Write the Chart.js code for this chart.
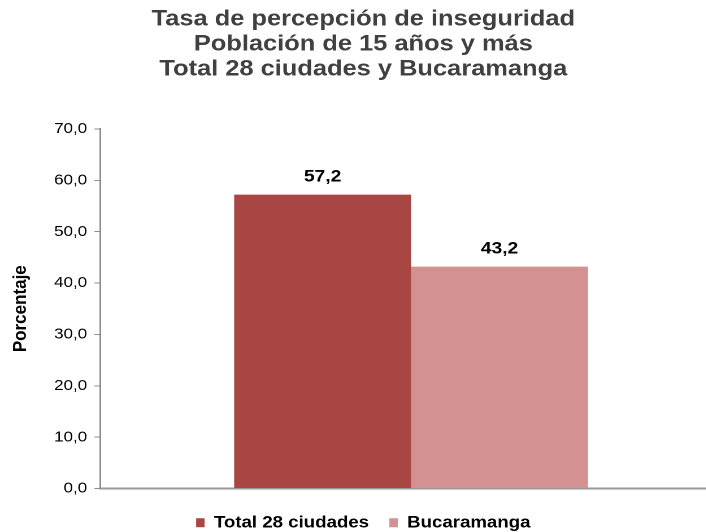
<!DOCTYPE html>
<html>
<head>
<meta charset="utf-8">
<script src="https://cdn.jsdelivr.net/npm/chart.js@4/dist/chart.umd.min.js"></script>
<style>
  html, body { margin: 0; padding: 0; background: #fff; overflow: hidden; }
  /* the source picture is a bit wider than tall, so the chart is stretched sideways */
  #wrap { position: relative; width: 639px; height: 541px; transform: scaleX(1.13); transform-origin: 0 0; }
</style>
</head>
<body>
<div id="wrap"><canvas id="chart"></canvas></div>
<script>
// Data
const categories = [""];
const seriesNames = ["Total 28 ciudades", "Bucaramanga"];
const totalValues = [57.2];
const bucaValues = [43.2];
const colors = ["#A84644", "#D39191"];

const titleLines = [
  "Tasa de percepción de inseguridad",
  "Población de 15 años y más",
  "Total 28 ciudades y Bucaramanga",
];

const FONT = "'Liberation Sans', Arial, sans-serif";

function fmt(v) {
  return Number(v).toFixed(1).replace(".", ",");
}

// draws value above each bar
const barLabels = {
  id: "barLabels",
  afterDatasetsDraw(chart) {
    const ctx = chart.ctx;
    ctx.save();
    ctx.font = "bold 17px " + FONT;
    ctx.fillStyle = "#000";
    ctx.textAlign = "center";
    ctx.textBaseline = "middle";
    chart.data.datasets.forEach((ds, i) => {
      const meta = chart.getDatasetMeta(i);
      meta.data.forEach((bar, j) => {
        ctx.fillText(fmt(ds.data[j]), bar.x, bar.y - 18);
      });
    });
    ctx.restore();
  },
};

const datasets = [
  { label: seriesNames[0], data: totalValues, backgroundColor: colors[0] },
  { label: seriesNames[1], data: bucaValues, backgroundColor: colors[1] },
];

new Chart(document.getElementById("chart"), {
  type: "bar",
  data: { labels: categories, datasets },
  plugins: [barLabels],
  options: {
    responsive: true,
    maintainAspectRatio: false,
    animation: false,
    devicePixelRatio: 2,
    categoryPercentage: 0.569,
    barPercentage: 1,
    layout: { padding: { top: 7, left: 4, right: 0, bottom: 0 } },
    plugins: {
      title: {
        display: true,
        text: titleLines,
        color: "#404040",
        font: { family: FONT, size: 22.5, weight: "bold", lineHeight: 1.11 },
        padding: { top: 0, bottom: 47 },
      },
      legend: {
        position: "bottom",
        labels: {
          color: "#000",
          boxWidth: 7.5,
          boxHeight: 9,
          padding: 18,
          font: { family: FONT, size: 16.5, weight: "bold" },
        },
      },
      tooltip: { enabled: false },
    },
    scales: {
      x: {
        grid: { display: false },
        border: { color: "#999", width: 2 },
        ticks: { display: false },
      },
      y: {
        min: 0,
        max: 70,
        ticks: {
          stepSize: 10,
          color: "#000",
          padding: 6.5,
          font: { family: FONT, size: 15 },
          callback: (v) => fmt(v),
        },
        grid: { drawOnChartArea: false, tickLength: 5, color: "#8c8c8c" },
        border: { color: "#8c8c8c", width: 1.5 },
        title: {
          display: true,
          text: "Porcentaje",
          color: "#000",
          font: { family: FONT, size: 17, weight: "bold" },
          padding: { top: 4, bottom: 13 },
        },
      },
    },
  },
});
</script>
</body>
</html>
